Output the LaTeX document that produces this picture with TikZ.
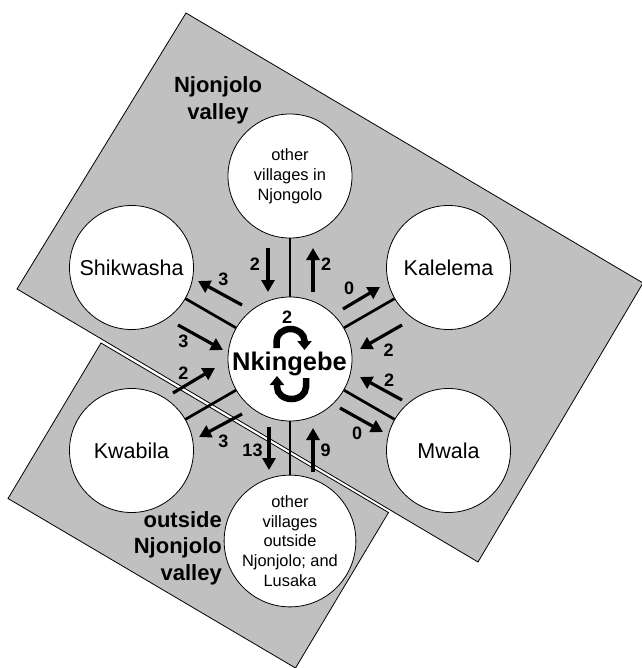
\documentclass[tikz,border=0pt]{standalone}
\usepackage{fontspec}
\setmainfont{Liberation Sans}
\usetikzlibrary{arrows.meta}
\definecolor{regiongray}{RGB}{192,192,192}
\begin{document}
\begin{tikzpicture}[x=1pt,y=-1pt,
  region/.style={fill=regiongray,draw=black,line width=0.8pt,line join=miter},
  village/.style={circle,draw=black,fill=white,line width=0.8pt,minimum size=124pt,inner sep=0pt,align=center},
  bigname/.style={font=\fontsize{21.5}{26}\selectfont},
  smallname/.style={font=\fontsize{16.4}{19.8}\selectfont},
  link/.style={line width=2.7pt},
  flow/.style={line width=3.2pt,-{Triangle[width=13pt,length=12pt]}},
  num/.style={font=\bfseries\fontsize{18}{20}\selectfont,inner sep=0pt},
  area/.style={font=\bfseries\fontsize{22}{26.5}\selectfont,inner sep=0pt},
  loopflow/.style={line width=6.5pt,-{Triangle[width=14pt,length=9pt]}}
]
\useasboundingbox (0,0) rectangle (641,668);
% regions
\draw[region] (186,13) -- (643,283) -- (478,562) -- (17,289) -- cycle;
\draw[region] (101,343) -- (388.5,512.5) -- (295.5,668) -- (8,498.5) -- cycle;
% villages
\node[village] (c) at (290,359) {};
\node[village,smallname] (n) at (290,176) {other\\villages in\\Njongolo};
\node[village,bigname] (k) at (448.5,267.5) {Kalelema};
\node[village,bigname] (m) at (448.5,450.5) {Mwala};
\node[village,smallname] (o) at (290,541) {other\\villages\\outside\\Njonjolo; and\\Lusaka};
\node[village,bigname] (kw) at (131.5,450.5) {Kwabila};
\node[village,bigname] (s) at (131.5,267.5) {Shikwasha};
% links
\draw[link] (c) -- (n);
\draw[link] (c) -- (k);
\draw[link] (c) -- (m);
\draw[link] (c) -- (o);
\draw[link] (c) -- (kw);
\draw[link] (c) -- (s);
% flows
\draw[flow] (268,248) -- (268,292);
\node[num] (l1) at (255,264) {2};
\draw[flow] (313,292) -- (313,248);
\node[num] (l2) at (326,264) {2};
\draw[flow] (343,309) -- (380,287);
\node[num] (l3) at (349,288) {0};
\draw[flow] (402,325) -- (360,349);
\node[num] (l4) at (388.5,350) {2};
\draw[flow] (402,400) -- (360,377);
\node[num] (l5) at (389,380.5) {2};
\draw[flow] (340,408) -- (383,432);
\node[num] (l6) at (357,433) {0};
\draw[flow] (269,427) -- (269,470);
\node[num] (l7) at (252.5,450) {13};
\draw[flow] (313,472) -- (313,428);
\node[num] (l8) at (325.5,450) {9};
\draw[flow] (242,305) -- (198,281);
\node[num] (l9) at (223.5,279.5) {3};
\draw[flow] (178,325) -- (223,350);
\node[num] (l10) at (183.3,341.7) {3};
\draw[flow] (173,393) -- (215,368);
\node[num] (l11) at (183.3,373) {2};
\draw[flow] (242,414) -- (199,437);
\node[num] (l12) at (223.5,441.7) {3};
% centre
\node[font=\bfseries\fontsize{25.5}{30}\selectfont,inner sep=0pt,anchor=base] (nk) at (289.5,370) {Nkingebe};
\node[num] (l0) at (287,317) {2};
\draw[loopflow] (276.5,348) -- (276.5,341) arc[start angle=180,end angle=360,x radius=14,y radius=12] -- (304.5,350);
\draw[loopflow] (306,378) -- (306,387) arc[start angle=0,end angle=180,x radius=14.5,y radius=12] -- (277,376);
% region labels
\node[area,align=center] (nv) at (218,100.5) {Njonjolo\\valley};
\node[area,align=right,anchor=east] (ov) at (222,548) {outside\\Njonjolo\\valley};
\end{tikzpicture}
\end{document}
